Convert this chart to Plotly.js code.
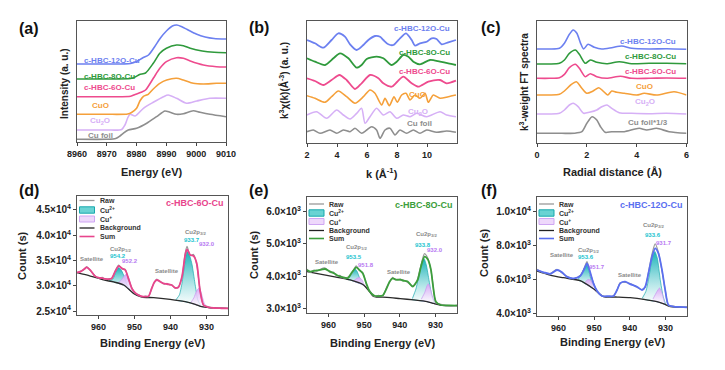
<!DOCTYPE html>
<html><head><meta charset="utf-8">
<script src="https://cdn.plot.ly/plotly-3.0.1.min.js"></script>
<style>html,body{margin:0;padding:0;background:#fff}#chart{width:725px;height:370px}</style>
</head><body><div id="chart"></div>
<script>
// ---------- (a) XANES ----------
const aE12 = [8960, 8970, 8978, 8980, 8982, 8984, 8986, 8988, 8990, 8992, 8993.5, 8995, 8997, 9000, 9003, 9006, 9010];
const a12 = [78, 78, 78.5, 80.5, 84, 87, 95, 104, 111, 116, 117, 115.5, 112.5, 108, 105, 103.5, 103];
const aE8 = [8960, 8970, 8978, 8979.5, 8981, 8983, 8985.6, 8987.8, 8990, 8993.4, 8995.7, 8998, 9002, 9006, 9010];
const a8 = [63, 63, 63.5, 65, 67.5, 69, 78.7, 88.7, 93.7, 97, 96.3, 93.7, 91, 89.7, 89.3];
const aE6 = [8960, 8970, 8978, 8979.5, 8981.5, 8983, 8985.6, 8987.8, 8990, 8993.4, 8995.7, 8998, 9002.4, 9006.8, 9010];
const a6 = [45.3, 45.3, 45.7, 47.5, 49.7, 52, 63.7, 73.7, 80.3, 84.3, 83.7, 81, 77, 75.3, 75];
const aECuO = [8960, 8970, 8977, 8978.3, 8980, 8981.1, 8982.3, 8983.9, 8985.6, 8987.8, 8990.1, 8993.4, 8995.7, 8999, 9002.4, 9006.8, 9010];
const aCuO = [27.7, 27.7, 28, 29.5, 33.7, 41, 45.7, 47.7, 53, 58.7, 62, 63.7, 62, 58.7, 58, 58.7, 58.7];
const aECu2O = [8960, 8970, 8975, 8976.1, 8977, 8977.8, 8979.5, 8982.3, 8985.6, 8989, 8990.6, 8993.4, 8996.8, 9000.2, 9004.6, 9010];
const aCu2O = [12, 12, 12.5, 17, 24, 27.7, 26, 33.7, 39.7, 45.3, 47, 43.7, 38.7, 41, 43.7, 43.7];
const aEfoil = [8960, 8970, 8973, 8974.4, 8975.5, 8977.2, 8980, 8983.4, 8986.7, 8989.5, 8991.2, 8993.4, 8995.7, 8999, 9001.3, 9004.6, 9010];
const afoil = [2.7, 2.7, 3.5, 6, 8.7, 12, 13.7, 18.7, 25.3, 31, 29.7, 27.7, 28.3, 31.3, 29.7, 27.7, 25.3];

// ---------- (b) k-space EXAFS ----------
const bK12 = [2, 2.53, 3.09, 3.64, 4.09, 4.53, 4.87, 5.31, 5.76, 6.09, 6.53, 6.87, 7.09, 7.42, 7.76, 8.2, 8.6, 8.98, 9.2, 9.53, 9.98, 10.31, 10.64, 10.98, 11.42, 11.93];
const b12 = [103, 99.7, 95.3, 103, 109.7, 106.3, 98.7, 93, 98, 103, 107, 106.3, 103, 98.7, 98, 104.7, 109.7, 103, 97.3, 99.7, 101.3, 104.7, 104, 98.7, 100.7, 103];
const bK8 = [2, 2.53, 3.2, 3.76, 4.2, 4.76, 5.31, 5.64, 5.98, 6.64, 7.09, 7.64, 7.98, 8.42, 8.76, 9.09, 9.53, 10.2, 10.87, 11.42, 11.93];
const b8 = [84.7, 81.3, 78, 84.7, 89.7, 84.7, 75.3, 78, 84, 86.3, 84.7, 78, 81.3, 88, 86.3, 81.3, 78.7, 83, 81.3, 79.7, 78];
const bK6 = [2, 2.53, 3.09, 3.64, 4.16, 4.64, 5.2, 5.64, 6.2, 6.76, 7.09, 7.64, 8.02, 8.42, 8.98, 9.42, 10.09, 10.87, 11.31, 11.93];
const b6 = [64.7, 62, 58, 63, 68, 63, 54, 59.7, 68, 64.7, 59.7, 56.3, 61.3, 66.3, 59.7, 56.3, 61.3, 63, 59.7, 62.3];
const bKCuO = [2, 2.53, 3.2, 3.64, 4.09, 4.64, 5.2, 5.76, 6.2, 6.53, 6.98, 7.2, 7.49, 7.8, 8.02, 8.31, 8.6, 8.87, 9.2, 9.53, 9.87, 10.09, 10.42, 10.87, 11.42, 11.93];
const bCuO = [47.3, 44.7, 40.7, 46.3, 52, 46.3, 39.7, 46.3, 53, 49.7, 38, 44.7, 37.3, 46.3, 40.7, 48, 49.7, 43, 48, 44.7, 49.7, 40.7, 48, 44.7, 46.3, 48];
const bKCu2O = [2, 2.64, 3.31, 3.98, 4.42, 4.87, 5.31, 5.64, 5.87, 6.2, 6.64, 7.09, 7.53, 7.98, 8.42, 8.87, 9.31, 9.98, 10.87, 11.31, 11.93];
const bCu2O = [28, 31.3, 24.7, 33, 28, 24, 29.7, 34.7, 19.7, 26.3, 34.7, 28, 31.3, 24.7, 28, 26.3, 29.7, 26.3, 31.3, 28, 26.3];
const bKfoil = [2, 2.42, 2.87, 3.53, 3.98, 4.42, 4.87, 5.2, 5.64, 5.98, 6.31, 6.64, 6.87, 7.2, 7.53, 7.87, 8.2, 8.64, 9.09, 9.53, 9.98, 10.64, 11.31, 11.93];
const bfoil = [11.3, 13, 9.7, 13, 9.7, 13, 11.3, 14.7, 9.7, 13, 16.3, 13, 4.7, 13, 14.7, 8, 13, 9.7, 13, 9.7, 13, 10.7, 12, 10.7];

// ---------- (c) R-space FT ----------
const cR12 = [0, 0.5, 0.9, 1.1, 1.3, 1.45, 1.6, 1.75, 1.87, 2.05, 2.3, 2.6, 3.0, 3.4, 3.8, 4.5, 5.2, 6];
const c12 = [94, 94, 94.7, 99.7, 108.7, 113, 109.7, 99.7, 94, 98.7, 95.7, 94, 95.3, 97, 94.7, 94, 94.3, 93.7];
const cR8 = [0, 0.5, 0.9, 1.1, 1.3, 1.54, 1.7, 1.94, 2.14, 2.4, 2.8, 3.3, 3.8, 4.5, 5.2, 6];
const c8 = [79, 79, 79.7, 83, 89.7, 93, 88.7, 79.7, 83, 80.7, 79.3, 81.3, 79.3, 79.7, 79.7, 79.3];
const cR6 = [0, 0.5, 0.9, 1.1, 1.3, 1.54, 1.7, 1.94, 2.14, 2.4, 2.8, 3.35, 3.8, 4.5, 5.2, 6];
const c6 = [64.7, 64.7, 65.3, 68.7, 75.3, 78.7, 74.7, 66.3, 69.3, 66.3, 64.7, 66.7, 64.7, 64.7, 65, 64.7];
const cRCuO = [0, 0.5, 0.9, 1.1, 1.35, 1.58, 1.8, 2.0, 2.25, 2.48, 2.65, 2.84, 3.0, 3.2, 3.5, 4.0, 4.3, 4.8, 5.5, 6];
const cCuO = [48, 48, 48.7, 52, 58, 61.3, 54.7, 49.7, 52, 55.3, 52, 48, 52, 50.7, 49.7, 48, 49.7, 48, 51.3, 48];
const cRCu2O = [0, 0.5, 0.9, 1.1, 1.3, 1.45, 1.65, 1.87, 2.1, 2.4, 2.6, 2.81, 3.0, 3.3, 3.8, 4.5, 5.2, 6];
const cCu2O = [29, 29, 29.7, 33, 38, 39.7, 36.3, 29.7, 30.7, 33, 36.3, 38, 34.7, 30.3, 29.7, 29.3, 29.7, 29];
const cRfoil = [0, 0.5, 1.0, 1.5, 1.8, 2.0, 2.21, 2.4, 2.55, 2.74, 3.0, 3.5, 4.1, 4.4, 4.8, 5.3, 6];
const cfoil = [9.7, 9.7, 9.7, 9.7, 11.3, 19.7, 26.3, 23, 16.3, 10.7, 11.3, 11.3, 14.7, 13, 14.7, 11.3, 9.7];

// ---------- (d) XPS c-HBC-6O-Cu ----------
const dE = [966, 965, 964, 963.3, 962.3, 961, 960, 959, 958, 957, 956.3, 955.4, 954.4, 953.5, 952.6, 951.7, 950.7, 949.8, 948.8, 947.9, 947, 946.1, 945.2, 944.5, 943.8, 943, 942.4, 941.7, 941, 940.3, 939.7, 938.7, 937.8, 936.8, 935.9, 935.4, 934.5, 933.6, 932.7, 931.8, 930.8, 929.4, 928, 926, 924];
const dSum = [32650, 32800, 33300, 33650, 33100, 31900, 31600, 31500, 31350, 31300, 31500, 32790, 33910, 33450, 33120, 31470, 29400, 28600, 28100, 27900, 27850, 27950, 29490, 30700, 31140, 30900, 30600, 30400, 30350, 30250, 30150, 29600, 29690, 31800, 36090, 37200, 36100, 35900, 34440, 29160, 26190, 25730, 25600, 25550, 25530];
const dRaw = [32500, 32900, 33200, 33800, 33000, 32000, 31500, 31650, 31250, 31400, 31400, 32900, 34100, 33300, 33250, 31300, 29500, 28500, 28200, 27800, 27950, 27850, 29600, 30600, 31300, 30800, 30700, 30300, 30500, 30150, 30250, 29500, 29800, 31700, 36500, 37800, 36000, 36200, 34200, 29300, 26100, 25850, 25500, 25650, 25450];
const dBgE = [966, 962.3, 958.6, 955.8, 953.0, 950.3, 948, 944.7, 940.1, 935.9, 933.1, 931.3, 929, 924];
const dBg = [32590, 31930, 31150, 30750, 30150, 28500, 27750, 27650, 27300, 26840, 26330, 25850, 25650, 25530];
const d2p3E = [938.5, 937.5, 936.8, 936, 935.4, 934.8, 934, 933.2, 932.4, 931.6];
const d2p3Cu2 = [27200, 28200, 30500, 34500, 36800, 36300, 34200, 30500, 27200, 26000];
const d2p3Base = [27125, 27015, 26940, 26850, 26750, 26640, 26490, 26350, 26140, 25930];
const d2p3CuE = [934.3, 933.5, 932.7, 932, 931.4, 930.7, 930];
const d2p3Cu1 = [26700, 27600, 29000, 29600, 28500, 26700, 25800];
const d2p3CuBase = [26550, 26400, 26230, 26040, 25875, 25800, 25740];
const d2p1E = [957, 956, 955.2, 954.4, 953.6, 952.8, 952, 951.2];
const d2p1Cu2 = [31000, 31350, 32700, 33600, 33000, 31700, 30000, 29100];
const d2p1Base = [30980, 30780, 30620, 30450, 30280, 30030, 29540, 29050];
const d2p1CuE = [954.5, 953.5, 952.7, 952.2, 951.6, 950.8, 950];
const d2p1Cu1 = [30550, 31300, 32100, 32300, 31500, 29600, 28450];
const d2p1CuBase = [30470, 30250, 29970, 29660, 29290, 28800, 28400];

// ---------- (e) XPS c-HBC-8O-Cu ----------
const eE = [966, 965.1, 964, 963.2, 962, 960.9, 959.5, 958.5, 957.7, 956.8, 955.8, 954.5, 953.6, 952.2, 951.3, 950.4, 949.4, 948.5, 947.1, 946, 944.8, 943.7, 942.9, 942, 941.3, 940.6, 939.9, 939.2, 937.8, 936.4, 935.7, 935, 934.1, 933.1, 932.2, 931.3, 930.8, 929.9, 928.5, 926, 924];
const eSum = [4190, 4140, 4160, 4175, 4200, 4220, 4137, 4090, 4034, 3990, 3963, 3940, 4087, 4273, 4190, 4087, 3777, 3530, 3390, 3380, 3400, 3620, 3826, 3932, 3900, 3880, 3900, 3860, 3830, 3671, 3760, 3880, 4292, 4603, 4520, 4200, 3777, 3205, 3102, 3090, 3085];
const eRaw = [4220, 4110, 4190, 4150, 4230, 4250, 4110, 4120, 4000, 4020, 3940, 3970, 4060, 4320, 4170, 4110, 3750, 3560, 3370, 3400, 3380, 3650, 3800, 3960, 3880, 3910, 3870, 3890, 3800, 3700, 3740, 3920, 4330, 4700, 4560, 4180, 3800, 3180, 3120, 3070, 3100];
const eBgE = [966, 962.3, 958.6, 953.9, 950.15, 948.5, 947.4, 943.6, 939.9, 936.1, 932.4, 930.5, 928.7, 924];
const eBg = [4137, 4060, 3982, 3879, 3724, 3516, 3370, 3340, 3300, 3260, 3210, 3150, 3100, 3080];
const e2p3E = [936.5, 935.5, 934.6, 933.8, 933.2, 932.6, 931.8, 931, 930.3];
const e2p3Cu2 = [3300, 3600, 4050, 4450, 4540, 4350, 3850, 3350, 3160];
const e2p3Base = [3264, 3252, 3240, 3229, 3221, 3213, 3191, 3166, 3144];
const e2p3CuE = [934, 933, 932.4, 932, 931.5, 930.8, 930];
const e2p3Cu1 = [3280, 3500, 3700, 3760, 3620, 3350, 3150];
const e2p3CuBase = [3231, 3218, 3210, 3197, 3181, 3160, 3136];
const e2p1E = [955, 954, 953.3, 952.6, 952, 951.2, 950.4];
const e2p1Cu2 = [3910, 3980, 4130, 4230, 4150, 3920, 3740];
const e2p1Base = [3903, 3881, 3854, 3827, 3801, 3768, 3734];
const e2p1CuE = [953, 952, 951.3, 950.6, 950, 949.3];
const e2p1Cu1 = [3850, 3930, 3960, 3880, 3740, 3625];
const e2p1CuBase = [3842, 3801, 3772, 3743, 3705, 3618];

// ---------- (f) XPS c-HBC-12O-Cu ----------
const fE = [966, 964.1, 962.3, 960.4, 959, 957.6, 955.7, 953.9, 952.9, 952, 951.1, 950.2, 949.2, 947.8, 946, 944.6, 943.6, 942.7, 941.3, 939.9, 938, 936.6, 935.7, 934.8, 933.8, 932.9, 932, 931, 930.1, 929.2, 927.8, 926, 924];
const fSum = [6555, 6420, 6330, 6555, 6420, 6150, 6065, 6200, 6555, 6950, 6420, 5770, 5330, 5020, 5010, 5020, 5375, 5770, 5864, 5720, 5570, 5375, 5570, 6360, 7340, 7835, 7540, 6555, 5375, 4490, 4400, 4380, 4354];
const fRaw = [6600, 6380, 6350, 6600, 6380, 6180, 6040, 6230, 6600, 7050, 6380, 5800, 5300, 5050, 4990, 5040, 5350, 5800, 5830, 5760, 5540, 5400, 5540, 6400, 7500, 8100, 7600, 6500, 5400, 4460, 4420, 4360, 4380];
const fBgE = [966, 962.3, 958.6, 953.9, 950.2, 947.4, 943.6, 939.9, 936.1, 932.4, 930.5, 928.7, 924];
const fBg = [6496, 6260, 6100, 5923, 5450, 4990, 4960, 4920, 4826, 4685, 4560, 4400, 4350];
const f2p3E = [936.5, 935.5, 934.6, 933.8, 933, 932.3, 931.5, 930.7, 930];
const f2p3Cu2 = [4900, 5300, 6200, 7200, 7650, 7250, 6000, 5000, 4550];
const f2p3Base = [4836, 4804, 4770, 4737, 4707, 4678, 4625, 4573, 4517];
const f2p3CuE = [933.5, 932.5, 931.7, 931, 930.3];
const f2p3Cu1 = [4850, 5250, 5500, 5200, 4600];
const f2p3CuBase = [4726, 4689, 4638, 4593, 4540];
const f2p1E = [954.5, 953.6, 952.8, 952, 951.3, 950.5];
const f2p1Cu2 = [6000, 6300, 6650, 6850, 6350, 5550];
const f2p1Base = [5946, 5885, 5782, 5680, 5590, 5488];
const f2p1CuE = [952.5, 951.7, 951, 950.3, 949.5];
const f2p1Cu1 = [5850, 6000, 5950, 5700, 5350];
const f2p1CuBase = [5744, 5641, 5552, 5463, 5305];

// ---------- tick labels ----------
const aTicks = [8960, 8970, 8980, 8990, 9000, 9010];
const bTicks = [2, 4, 6, 8, 10];
const cTicks = [0, 2, 4, 6];
const xpsTicks = [960, 950, 940, 930];
const dYTicks = [25000, 30000, 35000, 40000, 45000];
const dYText = ['2.5×10<sup>4</sup>', '3.0×10<sup>4</sup>', '3.5×10<sup>4</sup>', '4.0×10<sup>4</sup>', '4.5×10<sup>4</sup>'];
const eYTicks = [3000, 4000, 5000, 6000];
const eYText = ['3.0×10<sup>3</sup>', '4.0×10<sup>3</sup>', '5.0×10<sup>3</sup>', '6.0×10<sup>3</sup>'];
const fYTicks = [4000, 6000, 8000, 10000];
const fYText = ['4.0×10<sup>3</sup>', '6.0×10<sup>3</sup>', '8.0×10<sup>3</sup>', '1.0×10<sup>4</sup>'];

// ---------- styling ----------
const F = 'Liberation Sans, Arial, sans-serif';
const COL = {blue: '#6c80f0', green: '#2f9a3c', pink: '#ee4b8e', orange: '#f5a03a', lav: '#d6b0f6', gray: '#8e8e8e',
  dSum: '#e8458c', eSum: '#3c9e3c', fSum: '#5a6ff0', teal: '#17b2b8', cyanTxt: '#22c3cf', lavTxt: '#b779f2', sat: '#8a8a8a'};

function ln(x, y, color, w, xa, ya) {
  return {type: 'scatter', mode: 'lines', x: x, y: y, xaxis: xa, yaxis: ya,
    line: {color: color, width: w, shape: 'spline', smoothing: 0.7}, showlegend: false, hoverinfo: 'skip'};
}
function comp(E, top, base, c1, edge, xa, ya) {
  return {type: 'scatter', mode: 'lines', xaxis: xa, yaxis: ya,
    x: E.concat(E.slice().reverse()), y: top.concat(base.slice().reverse()),
    fill: 'toself', fillcolor: c1,
    fillgradient: {type: 'vertical', colorscale: [[0, 'rgba(255,255,255,0.7)'], [1, c1]]},
    line: {color: edge, width: 0.7, shape: 'spline', smoothing: 0.5}, showlegend: false, hoverinfo: 'skip'};
}

const traces = [
  ln(aEfoil, afoil, COL.gray, 1.6, 'x', 'y'),
  ln(aECu2O, aCu2O, COL.lav, 1.6, 'x', 'y'),
  ln(aECuO, aCuO, COL.orange, 1.6, 'x', 'y'),
  ln(aE6, a6, COL.pink, 1.6, 'x', 'y'),
  ln(aE8, a8, COL.green, 1.6, 'x', 'y'),
  ln(aE12, a12, COL.blue, 1.6, 'x', 'y'),

  ln(bKfoil, bfoil, COL.gray, 1.6, 'x2', 'y2'),
  ln(bKCu2O, bCu2O, COL.lav, 1.6, 'x2', 'y2'),
  ln(bKCuO, bCuO, COL.orange, 1.6, 'x2', 'y2'),
  ln(bK6, b6, COL.pink, 1.8, 'x2', 'y2'),
  ln(bK8, b8, COL.green, 1.8, 'x2', 'y2'),
  ln(bK12, b12, COL.blue, 1.8, 'x2', 'y2'),

  ln(cRfoil, cfoil, COL.gray, 1.6, 'x3', 'y3'),
  ln(cRCu2O, cCu2O, COL.lav, 1.6, 'x3', 'y3'),
  ln(cRCuO, cCuO, COL.orange, 1.6, 'x3', 'y3'),
  ln(cR6, c6, COL.pink, 1.6, 'x3', 'y3'),
  ln(cR8, c8, COL.green, 1.6, 'x3', 'y3'),
  ln(cR12, c12, COL.blue, 1.6, 'x3', 'y3'),

  comp(d2p3E, d2p3Cu2, d2p3Base, COL.teal, '#1aa9ad', 'x4', 'y4'),
  comp(d2p1E, d2p1Cu2, d2p1Base, COL.teal, '#1aa9ad', 'x4', 'y4'),
  comp(d2p3CuE, d2p3Cu1, d2p3CuBase, '#d8a6f6', '#c796ef', 'x4', 'y4'),
  comp(d2p1CuE, d2p1Cu1, d2p1CuBase, '#d8a6f6', '#c796ef', 'x4', 'y4'),
  ln(dBgE, dBg, '#2b2b2b', 1.3, 'x4', 'y4'),
  ln(dE, dRaw, '#9a9a9a', 1.2, 'x4', 'y4'),
  ln(dE, dSum, COL.dSum, 1.8, 'x4', 'y4'),

  comp(e2p3E, e2p3Cu2, e2p3Base, COL.teal, '#1aa9ad', 'x5', 'y5'),
  comp(e2p1E, e2p1Cu2, e2p1Base, COL.teal, '#1aa9ad', 'x5', 'y5'),
  comp(e2p3CuE, e2p3Cu1, e2p3CuBase, '#d8a6f6', '#c796ef', 'x5', 'y5'),
  comp(e2p1CuE, e2p1Cu1, e2p1CuBase, '#d8a6f6', '#c796ef', 'x5', 'y5'),
  ln(eBgE, eBg, '#2b2b2b', 1.3, 'x5', 'y5'),
  ln(eE, eRaw, '#9a9a9a', 1.2, 'x5', 'y5'),
  ln(eE, eSum, COL.eSum, 1.8, 'x5', 'y5'),

  comp(f2p3E, f2p3Cu2, f2p3Base, COL.teal, '#1aa9ad', 'x6', 'y6'),
  comp(f2p1E, f2p1Cu2, f2p1Base, COL.teal, '#1aa9ad', 'x6', 'y6'),
  comp(f2p3CuE, f2p3Cu1, f2p3CuBase, '#d8a6f6', '#c796ef', 'x6', 'y6'),
  comp(f2p1CuE, f2p1Cu1, f2p1CuBase, '#d8a6f6', '#c796ef', 'x6', 'y6'),
  ln(fBgE, fBg, '#2b2b2b', 1.3, 'x6', 'y6'),
  ln(fE, fRaw, '#9a9a9a', 1.2, 'x6', 'y6'),
  ln(fE, fSum, COL.fSum, 1.8, 'x6', 'y6')
];

// ---------- layout helpers (pixel -> paper) ----------
const W = 725, H = 370;
const dx = (a, b) => [a / W, b / W];
const dy = (top, bot) => [1 - bot / H, 1 - top / H];
const tickF = {family: F, size: 9, color: '#222', weight: 'bold'};
function xax(dom, anchor, range, tv) {
  return {domain: dom, anchor: anchor, range: range, tickvals: tv, ticks: 'outside', ticklen: 3, tickwidth: 1,
    tickcolor: '#444', showline: true, mirror: true, linecolor: '#555', linewidth: 1, showgrid: false,
    zeroline: false, tickfont: tickF, fixedrange: true};
}
function yax(dom, anchor, range, tv, tt) {
  const o = {domain: dom, anchor: anchor, range: range, showline: true, mirror: true, linecolor: '#555', linewidth: 1,
    showgrid: false, zeroline: false, fixedrange: true};
  if (tv) { o.tickvals = tv; o.ticktext = tt; o.ticks = 'outside'; o.ticklen = 3; o.tickcolor = '#444';
    o.tickfont = {family: F, size: 10, color: '#222', weight: 'bold'}; }
  else { o.showticklabels = false; o.ticks = ''; }
  return o;
}

function A(text, px, py, size, color, extra) {
  return Object.assign({text: '<b>' + text + '</b>', x: px / W, y: 1 - py / H, xref: 'paper', yref: 'paper', showarrow: false,
    xanchor: 'center', yanchor: 'middle', font: {family: F, size: size, color: color}}, extra || {});
}

const ann = [
  A('(a)', 29, 28, 16, '#111'), A('(b)', 259, 27, 16, '#111'), A('(c)', 491, 27, 16, '#111'),
  A('(d)', 29, 190, 16, '#111'), A('(e)', 259, 190, 16, '#111'), A('(f)', 489, 191, 16, '#111'),
  // axis titles
  A('Energy (eV)', 151.5, 171.5, 11, '#222'),
  A('Intensity (a. u.)', 64, 83, 10, '#222', {textangle: -90}),
  A('k (Å<sup>-1</sup>)', 382, 173, 11, '#222'),
  A('k<sup>3</sup>χ(k)(Å<sup>-3</sup>) (a. u.)', 284, 81, 10, '#222', {textangle: -90}),
  A('Radial distance (Å)', 612, 171.5, 11, '#222'),
  A('k<sup>3</sup>-weight FT spectra', 524, 82, 10, '#222', {textangle: -90}),
  A('Binding Energy (eV)', 152, 343, 11, '#222'), A('Count (s)', 22, 256, 11, '#222', {textangle: -90}),
  A('Binding Energy (eV)', 382, 343, 11, '#222'), A('Count (s)', 254, 255, 11, '#222', {textangle: -90}),
  A('Binding Energy (eV)', 612, 342, 11, '#222'), A('Count (s)', 484, 252, 11, '#222', {textangle: -90}),
  // (a) labels
  A('c-HBC-12O-Cu', 81.5, 60, 8, COL.blue, {xanchor: 'left'}),
  A('c-HBC-8O-Cu', 81.5, 76, 8, COL.green, {xanchor: 'left'}),
  A('c-HBC-6O-Cu', 81.5, 87.5, 8, COL.pink, {xanchor: 'left'}),
  A('CuO', 100, 105.5, 8, COL.orange), A('Cu<sub>2</sub>O', 100, 121.5, 8, COL.lav),
  A('Cu foil', 100, 135.5, 8, COL.gray),
  // (b) labels
  A('c-HBC-12O-Cu', 452, 29, 8, COL.blue, {xanchor: 'right'}),
  A('c-HBC-8O-Cu', 452, 52.3, 8, COL.green, {xanchor: 'right'}),
  A('c-HBC-6O-Cu', 452, 71, 8, COL.pink, {xanchor: 'right'}),
  A('CuO', 417, 94.3, 8, COL.orange), A('Cu<sub>2</sub>O', 418, 111.7, 8, COL.lav),
  A('Cu foil', 419, 123.3, 8, COL.gray),
  // (c) labels
  A('c-HBC-12O-Cu', 678, 41.7, 8, COL.blue, {xanchor: 'right'}),
  A('c-HBC-8O-Cu', 678, 56.7, 8, COL.green, {xanchor: 'right'}),
  A('c-HBC-6O-Cu', 678, 71, 8, COL.pink, {xanchor: 'right'}),
  A('CuO', 644, 86.3, 8, COL.orange), A('Cu<sub>2</sub>O', 644.7, 102.3, 8, COL.lav),
  A('Cu foil*1/3', 648, 122.3, 8, COL.gray),
  // (d) texts
  A('c-HBC-6O-Cu', 226, 203, 9, COL.dSum, {xanchor: 'right'}),
  A('Cu2p<sub>3/2</sub>', 195.7, 232.7, 6, COL.sat), A('933.7', 192, 239.5, 6, COL.cyanTxt),
  A('932.0', 207, 243.5, 6, COL.lavTxt),
  A('Cu2p<sub>1/2</sub>', 120, 249, 6, COL.sat), A('954.2', 117.7, 255.7, 6, COL.cyanTxt),
  A('952.2', 130, 260.7, 6, COL.lavTxt),
  A('Satellite', 91.7, 259, 6, COL.sat), A('Satellite', 166.7, 271, 6, COL.sat),
  // (e) texts
  A('c-HBC-8O-Cu', 455, 205, 9, COL.eSum, {xanchor: 'right'}),
  A('Cu2p<sub>3/2</sub>', 426.7, 234.3, 6, COL.sat), A('933.8', 422.5, 245, 6, COL.cyanTxt),
  A('932.0', 435, 250, 6, COL.lavTxt),
  A('Cu2p<sub>1/2</sub>', 356.7, 247.3, 6, COL.sat), A('953.5', 354, 257.3, 6, COL.cyanTxt),
  A('951.8', 365.8, 265, 6, COL.lavTxt),
  A('Satellite', 326.7, 261.7, 6, COL.sat), A('Satellite', 399, 271.7, 6, COL.sat),
  // (f) texts
  A('c-HBC-12O-Cu', 685, 205, 9, COL.fSum, {xanchor: 'right'}),
  A('Cu2p<sub>3/2</sub>', 653, 225, 6, COL.sat), A('933.6', 652.5, 235, 6, COL.cyanTxt),
  A('931.7', 664, 242.7, 6, COL.lavTxt),
  A('Cu2p<sub>1/2</sub>', 588, 250, 6, COL.sat), A('953.6', 586, 257.3, 6, COL.cyanTxt),
  A('951.7', 596.7, 266.7, 6, COL.lavTxt),
  A('Satellite', 561.7, 255, 6, COL.sat), A('Satellite', 629.7, 275, 6, COL.sat)
];

// manual legends for (d), (e), (f)
const legendNames = ['Raw', 'Cu<sup>2+</sup>', 'Cu<sup>+</sup>', 'Background', 'Sum'];
const shapes = [];
function legendBlock(L, rows, sumColor) {
  const X = v => v / W, Y = v => 1 - v / H;
  const lineS = (r, c, w) => shapes.push({type: 'line', xref: 'paper', yref: 'paper', x0: X(L), x1: X(L + 15), y0: Y(r), y1: Y(r), line: {color: c, width: w}});
  lineS(rows[0], '#9a9a9a', 1.3);
  shapes.push({type: 'rect', xref: 'paper', yref: 'paper', x0: X(L), x1: X(L + 15), y0: Y(rows[1] + 3.2), y1: Y(rows[1] - 3.2), fillcolor: '#6ad3d3', line: {color: '#17a9ad', width: 1}});
  shapes.push({type: 'rect', xref: 'paper', yref: 'paper', x0: X(L), x1: X(L + 15), y0: Y(rows[2] + 3), y1: Y(rows[2] - 3), fillcolor: '#eed8fb', line: {color: '#cfa6f3', width: 1}});
  lineS(rows[3], '#222', 1.3);
  lineS(rows[4], sumColor, 1.6);
  legendNames.forEach((t, i) => ann.push(A(t, L + 18, rows[i], 7, '#333', {xanchor: 'left'})));
}
legendBlock(79.5, [200.5, 210, 219, 228, 236.5], COL.dSum);
legendBlock(309, [204, 213, 221.5, 230.5, 238.5], COL.eSum);
legendBlock(539, [204, 213, 221.5, 230.5, 238.5], COL.fSum);

const layout = {
  width: W, height: H, margin: {l: 0, r: 0, t: 0, b: 0}, paper_bgcolor: '#fff', plot_bgcolor: '#fff',
  showlegend: false, font: {family: F, size: 10},
  xaxis: xax(dx(77, 226), 'y', [8960, 9010], aTicks),
  yaxis: yax(dy(21, 142), 'x', [0, 121]),
  xaxis2: xax(dx(307, 457), 'y2', [2, 12], bTicks),
  yaxis2: yax(dy(21, 143), 'x2', [0, 122]),
  xaxis3: xax(dx(537, 686.5), 'y3', [0, 6], cTicks),
  yaxis3: yax(dy(21, 143), 'x3', [0, 122]),
  xaxis4: xax(dx(77, 228), 'y4', [966, 924], xpsTicks),
  yaxis4: yax(dy(196, 315), 'x4', [24210, 47770], dYTicks, dYText),
  xaxis5: xax(dx(307, 457), 'y5', [966, 924], xpsTicks),
  yaxis5: yax(dy(197, 313), 'x5', [2854, 6456], eYTicks, eYText),
  xaxis6: xax(dx(537, 687), 'y6', [966, 924], xpsTicks),
  yaxis6: yax(dy(197, 316), 'x6', [3840, 10867], fYTicks, fYText),
  annotations: ann, shapes: shapes
};

Plotly.newPlot('chart', traces, layout, {displayModeBar: false});
</script></body></html>
